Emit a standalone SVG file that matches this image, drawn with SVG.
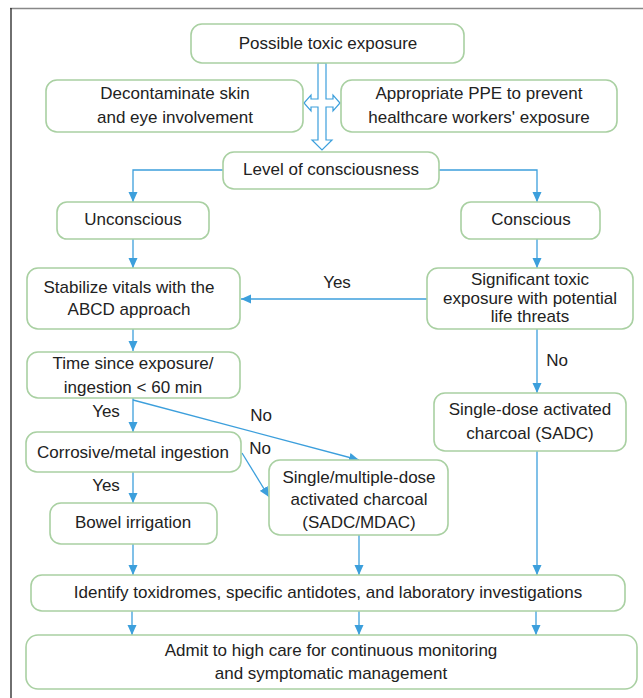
<svg xmlns="http://www.w3.org/2000/svg" width="643" height="698" viewBox="0 0 643 698">
<style>
.box{fill:#fff;stroke:#a9d0a2;stroke-width:1.6}
.t{font-family:"Liberation Sans",Arial,sans-serif;font-size:17px;fill:#222;text-anchor:middle}
.c{fill:none;stroke:#3c9fdc;stroke-width:1.3}
</style>
<defs>
<marker id="ah" markerUnits="userSpaceOnUse" markerWidth="10" markerHeight="10" viewBox="0 0 10 10" refX="10" refY="5" orient="auto">
<path d="M0,0.5 L10,5 L0,9.5 Z" fill="#3c9fdc"/>
</marker>
</defs>
<rect width="643" height="698" fill="#fff"/>
<line x1="10" y1="8.5" x2="643" y2="8.5" stroke="#888" stroke-width="1.5"/>
<line x1="11" y1="8" x2="11" y2="698" stroke="#222" stroke-width="1.3"/>

<g id="connectors">
<path class="c" d="M223,170 H133 V202" marker-end="url(#ah)"/>
<path class="c" d="M439,170 H537 V202" marker-end="url(#ah)"/>
<path class="c" d="M133,239 V268" marker-end="url(#ah)"/>
<path class="c" d="M537,239 V268" marker-end="url(#ah)"/>
<path class="c" d="M427,299 H241" marker-end="url(#ah)"/>
<path class="c" d="M133,329 V351" marker-end="url(#ah)"/>
<path class="c" d="M537,329 V393" marker-end="url(#ah)"/>
<path class="c" d="M133,398 V432" marker-end="url(#ah)"/>
<path class="c" d="M133,400 L359,460" marker-end="url(#ah)"/>
<path class="c" d="M242,453 L269,497" marker-end="url(#ah)"/>
<path class="c" d="M133,472 V503" marker-end="url(#ah)"/>
<path class="c" d="M133,544 V575" marker-end="url(#ah)"/>
<path class="c" d="M359,535 V575" marker-end="url(#ah)"/>
<path class="c" d="M537,451 V575" marker-end="url(#ah)"/>
<path class="c" d="M132,611 V635" marker-end="url(#ah)"/>
<path class="c" d="M359,611 V635" marker-end="url(#ah)"/>
<path class="c" d="M536,611 V635" marker-end="url(#ah)"/>
<path d="M318,63 L326,63 L326,99 L333,99 L333,95 L340,103 L333,111 L333,107 L326,107 L326,140 L332,140 L322,150 L312,140 L318,140 L318,107 L311,107 L311,111 L304,103 L311,95 L311,99 L318,99 Z" fill="#fff" stroke="#3c9fdc" stroke-width="1.2"/>
<text class="t" x="337" y="288">Yes</text>
<text class="t" x="557" y="366">No</text>
<text class="t" x="106" y="417">Yes</text>
<text class="t" x="261" y="421">No</text>
<text class="t" x="260" y="454">No</text>
<text class="t" x="106" y="491">Yes</text>
</g>

<g id="n-possible"><rect class="box" x="191" y="24" width="273" height="39" rx="11"/><text class="t" x="328" y="49">Possible toxic exposure</text></g>
<g id="n-decon"><rect class="box" x="46" y="80" width="257" height="52" rx="11"/><text class="t" x="175" y="99">Decontaminate skin</text><text class="t" x="175" y="123">and eye involvement</text></g>
<g id="n-ppe"><rect class="box" x="341" y="80" width="276" height="52" rx="11"/><text class="t" x="479" y="99">Appropriate PPE to prevent</text><text class="t" x="479" y="123">healthcare workers' exposure</text></g>
<g id="n-level"><rect class="box" x="223" y="152" width="216" height="37" rx="11"/><text class="t" x="331" y="175">Level of consciousness</text></g>
<g id="n-uncon"><rect class="box" x="57" y="202" width="152" height="37" rx="10"/><text class="t" x="133" y="225">Unconscious</text></g>
<g id="n-con"><rect class="box" x="461" y="202" width="139" height="37" rx="10"/><text class="t" x="531" y="225">Conscious</text></g>
<g id="n-stab"><rect class="box" x="27" y="268" width="213" height="61" rx="11"/><text class="t" x="129" y="293">Stabilize vitals with the</text><text class="t" x="129" y="315">ABCD approach</text></g>
<g id="n-sig"><rect class="box" x="427" y="268" width="206" height="61" rx="11"/><text class="t" x="530" y="285">Significant toxic</text><text class="t" x="530" y="304">exposure with potential</text><text class="t" x="530" y="322">life threats</text></g>
<g id="n-time"><rect class="box" x="27" y="352" width="213" height="46" rx="11"/><text class="t" x="133" y="369">Time since exposure/</text><text class="t" x="133" y="393">ingestion &lt; 60 min</text></g>
<g id="n-sadc"><rect class="box" x="434" y="393" width="192" height="58" rx="11"/><text class="t" x="530" y="415">Single-dose activated</text><text class="t" x="530" y="439">charcoal (SADC)</text></g>
<g id="n-corr"><rect class="box" x="26" y="432" width="215" height="40" rx="11"/><text class="t" x="133" y="458">Corrosive/metal ingestion</text></g>
<g id="n-smdac"><rect class="box" x="269" y="460" width="179" height="75" rx="11"/><text class="t" x="359" y="483">Single/multiple-dose</text><text class="t" x="359" y="505">activated charcoal</text><text class="t" x="359" y="528">(SADC/MDAC)</text></g>
<g id="n-bowel"><rect class="box" x="50" y="503" width="167" height="41" rx="11"/><text class="t" x="133" y="528">Bowel irrigation</text></g>
<g id="n-ident"><rect class="box" x="31" y="575" width="594" height="36" rx="11"/><text class="t" x="328" y="598">Identify toxidromes, specific antidotes, and laboratory investigations</text></g>
<g id="n-admit"><rect class="box" x="26" y="635" width="611" height="54" rx="12"/><text class="t" x="331" y="656">Admit to high care for continuous monitoring</text><text class="t" x="331" y="679">and symptomatic management</text></g>
</svg>
